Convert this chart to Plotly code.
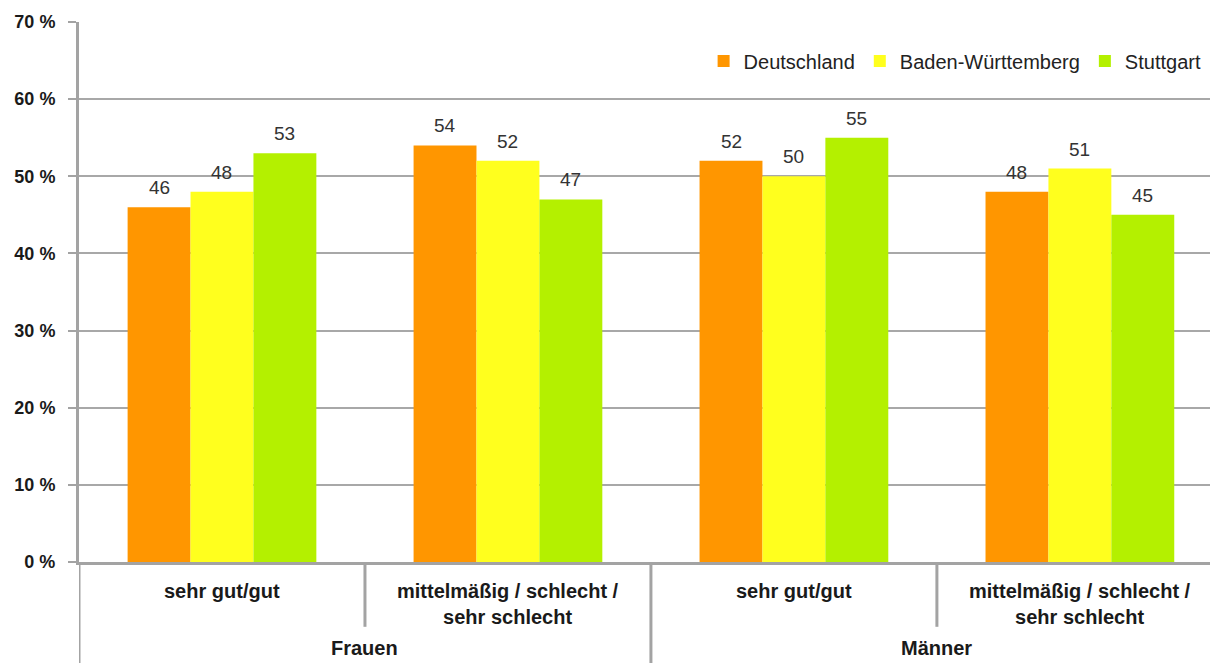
import plotly.graph_objects as go

# Survey answers (percent) by gender and self-rated health
groups = ["Frauen", "Männer"]
answers = ["sehr gut/gut", "mittelmäßig / schlecht /<br>sehr schlecht"]
categories = ["Frauen|gut", "Frauen|schlecht", "Männer|gut", "Männer|schlecht"]
cat_labels = [answers[0], answers[1], answers[0], answers[1]]

series_names = ["Deutschland", "Baden-Württemberg", "Stuttgart"]
deutschland = [46, 54, 52, 48]
baden_wuerttemberg = [48, 52, 50, 51]
stuttgart = [53, 47, 55, 45]

y_ticks = [0, 10, 20, 30, 40, 50, 60, 70]

colors = ["#FF9600", "#FFFF1E", "#B4F000"]
FONT = "Liberation Sans, Arial, sans-serif"
AXIS_GREY = "#a3a3a3"
BARGAP = 0.34

fig = go.Figure()
series = [deutschland, baden_wuerttemberg, stuttgart]
for name, vals, col in zip(series_names, series, colors):
    fig.add_trace(go.Bar(
        x=list(range(len(categories))), y=vals, name=name,
        marker=dict(color=col, line=dict(width=0)),
        hoverinfo="skip",
    ))

# value labels above each bar
bar_w = (1 - BARGAP) / len(series)
for si, vals in enumerate(series):
    off = (si - (len(series) - 1) / 2) * bar_w
    for ci, v in enumerate(vals):
        fig.add_annotation(
            x=ci + off, y=v, xref="x", yref="y", text=str(v), showarrow=False,
            yanchor="bottom", yshift=7,
            font=dict(family=FONT, size=19, color="#333333"),
        )

# category labels and group labels below the axis
for ci, lab in enumerate(cat_labels):
    fig.add_annotation(
        x=ci, y=-0.029, xref="x", yref="paper", text=f"<b>{lab}</b>",
        showarrow=False, yanchor="top", align="center",
        font=dict(family=FONT, size=20, color="#1a1a1a"),
    )
for gi, g in enumerate(groups):
    fig.add_annotation(
        x=gi * 2 + 0.5, y=-0.136, xref="x", yref="paper", text=f"<b>{g}</b>",
        showarrow=False, yanchor="top",
        font=dict(family=FONT, size=20, color="#1a1a1a"),
    )

# separators between categories and groups
for xb, depth in [(-0.5, -0.2), (0.5, -0.12), (1.5, -0.2), (2.5, -0.12)]:
    fig.add_shape(type="line", xref="x", yref="paper", x0=xb, x1=xb,
                  y0=0, y1=depth, line=dict(color=AXIS_GREY, width=3),
                  layer="above")

fig.update_layout(
    width=1210, height=663,
    margin=dict(l=79, r=0, t=22, b=101),
    paper_bgcolor="white", plot_bgcolor="white",
    barmode="group", bargap=BARGAP, bargroupgap=0,
    font=dict(family=FONT, color="#1a1a1a"),
    showlegend=True,
    legend=dict(orientation="h", x=0.997, xanchor="right", y=0.928,
                yanchor="middle", font=dict(family=FONT, size=20, color="#222222"),
                itemwidth=30, tracegroupgap=0, bgcolor="rgba(0,0,0,0)"),
    xaxis=dict(range=[-0.5, 3.455], showticklabels=False, showgrid=False,
               zeroline=False, showline=True, linecolor=AXIS_GREY, linewidth=3,
               ticks="", fixedrange=True),
    yaxis=dict(range=[0, 70], tickvals=y_ticks,
               ticktext=[f"<b>{t} %</b>" for t in y_ticks],
               showgrid=True, gridcolor="#a8a8a8", gridwidth=1.5,
               zeroline=False, showline=True, linecolor=AXIS_GREY, linewidth=3,
               ticks="outside", ticklen=8, tickwidth=2, tickcolor=AXIS_GREY,
               ticklabelstandoff=9,
               tickfont=dict(family=FONT, size=18, color="#1a1a1a"),
               fixedrange=True),
)

fig.write_html("out.html")
